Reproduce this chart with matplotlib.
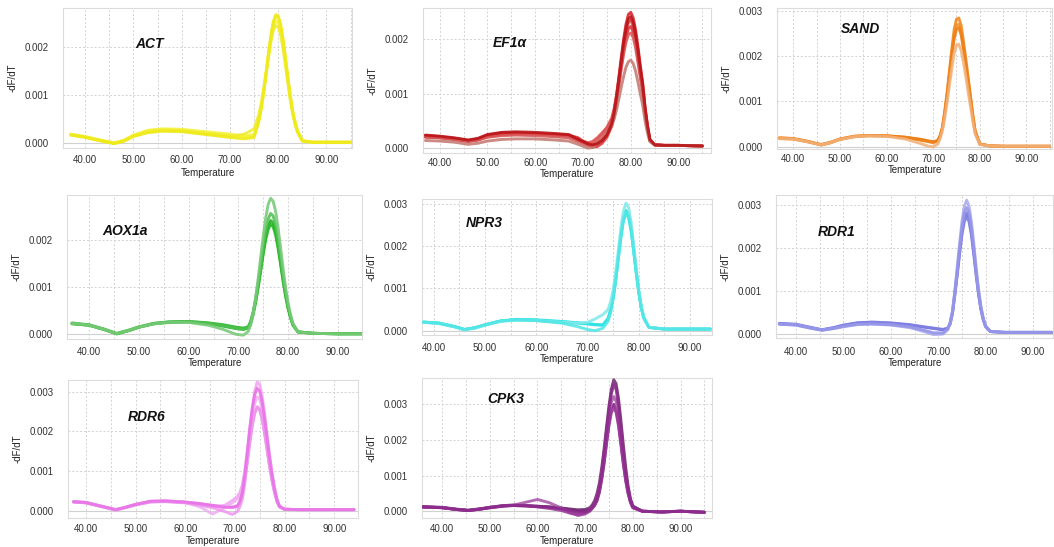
import matplotlib
matplotlib.use('Agg')
import matplotlib.pyplot as plt
import numpy as np
from matplotlib.ticker import FormatStrFormatter, MultipleLocator

plt.rcParams['font.family'] = ['Liberation Sans', 'DejaVu Sans']

# melt-curve values below are in units of 0.0001 (-dF/dT)
UNIT = 1e-4

GENES = ['ACT', 'EF1α', 'SAND', 'AOX1a', 'NPR3', 'RDR1', 'RDR6', 'CPK3']

# ---------------- ACT ----------------
T_ACT = [37, 40, 43, 46, 48, 50, 53, 56, 60, 65, 70, 73, 75,
         76, 76.5, 77, 77.5, 78, 78.5, 79, 79.5, 80, 80.5, 81, 81.5, 82, 82.5, 83, 83.5, 84,
         85, 87, 90, 95]
ACT_CURVES = [
    [1.7, 1.3, 0.6, 0.0, 0.5, 1.6, 2.5, 2.8, 2.7, 2.1, 1.6, 1.3, 1.5,
     4.8, 7.4, 10.7, 14.5, 18.5, 22.1, 24.9, 26.4, 26.2, 24.5, 21.5, 17.7, 13.7, 9.9, 6.8, 4.4, 2.6,
     0.5, 0.2, 0.2, 0.2],
    [1.9, 1.4, 0.7, 0.1, 0.6, 1.7, 2.7, 3.0, 2.9, 2.4, 1.9, 1.5, 1.8,
     5.0, 7.5, 10.6, 14.2, 18.0, 21.4, 24.0, 25.4, 25.2, 23.6, 20.7, 17.0, 13.2, 9.5, 6.5, 4.2, 2.4,
     0.5, 0.2, 0.2, 0.2],
    [1.8, 1.3, 0.6, 0.0, 0.5, 1.5, 2.4, 2.7, 2.6, 2.0, 1.4, 1.9, 3.0,
     6.0, 8.5, 11.5, 14.8, 18.2, 21.3, 23.6, 24.5, 24.2, 22.6, 19.8, 16.2, 12.5, 9.0, 6.1, 3.9, 2.3,
     0.5, 0.2, 0.2, 0.2],
    [1.7, 1.2, 0.5, -0.1, 0.4, 1.4, 2.2, 2.5, 2.4, 1.8, 1.2, 0.9, 1.2,
     4.6, 7.3, 10.8, 14.8, 19.0, 22.7, 25.4, 26.8, 26.6, 24.9, 21.8, 17.9, 13.8, 9.9, 6.7, 4.3, 2.5,
     0.5, 0.2, 0.2, 0.2],
]
ACT_COLORS = ['#f2ee1e', '#f5f23a', '#f0ec30', '#eeea18']

# ---------------- EF1a ----------------
T_EF = [37, 40, 43, 46, 48, 50, 53, 56, 60, 64, 67, 69, 71,
        72, 73, 74, 75, 76,
        76.5, 77, 77.5, 78, 78.5, 79, 79.5, 80, 80.5, 81, 81.5, 82, 82.5, 83, 83.5, 84,
        85, 87, 90, 95]
EF_CURVES = [
    [2.3, 2.1, 1.8, 1.4, 1.7, 2.4, 2.8, 2.8, 2.7, 2.5, 2.3, 1.5, 0.7,
     0.5, 0.9, 1.6, 2.8, 4.8,
     6.8, 9.6, 13.0, 16.6, 20.0, 22.8, 24.6, 25.0, 24.0, 21.8, 18.7, 15.2, 12.0, 7.5, 4.2, 1.6,
     0.6, 0.5, 0.5, 0.4],
    [2.2, 2.0, 1.7, 1.3, 1.6, 2.2, 2.6, 2.7, 2.6, 2.4, 2.2, 1.6, 1.0,
     1.2, 1.9, 2.8, 3.8, 5.5,
     7.2, 9.6, 12.6, 15.8, 18.9, 21.5, 23.1, 23.5, 22.6, 20.5, 17.6, 14.3, 11.2, 7.0, 3.9, 1.5,
     0.6, 0.5, 0.5, 0.4],
    [2.0, 1.9, 1.6, 1.2, 1.5, 2.1, 2.5, 2.6, 2.6, 2.4, 2.4, 1.9, 0.6,
     0.2, 0.3, 0.9, 2.0, 4.0,
     5.8, 8.4, 11.6, 14.9, 17.9, 20.4, 22.0, 22.4, 21.5, 19.5, 16.7, 13.6, 10.7, 6.7, 3.7, 1.4,
     0.6, 0.5, 0.5, 0.4],
    [2.1, 1.9, 1.6, 1.3, 1.5, 2.0, 2.3, 2.4, 2.3, 2.1, 1.9, 1.2, 0.5,
     0.6, 1.4, 2.4, 3.6, 5.0,
     6.5, 8.8, 11.5, 14.5, 17.3, 19.5, 20.9, 21.2, 20.4, 18.5, 15.8, 12.9, 10.2, 6.4, 3.5, 1.4,
     0.6, 0.5, 0.5, 0.4],
    [1.4, 1.3, 1.1, 0.7, 0.9, 1.3, 1.6, 1.7, 1.7, 1.5, 1.3, 0.7, 0.0,
     0.1, 0.7, 1.6, 2.9, 4.2,
     5.3, 7.0, 9.0, 11.2, 13.2, 14.9, 15.9, 16.2, 15.6, 14.2, 12.2, 10.0, 7.9, 5.0, 2.8, 1.2,
     0.6, 0.5, 0.5, 0.4],
    [2.4, 2.2, 1.9, 1.5, 1.8, 2.5, 2.9, 3.0, 2.9, 2.7, 2.5, 1.6, 0.8,
     0.6, 0.8, 1.4, 2.4, 4.4,
     6.4, 9.2, 12.5, 16.0, 19.3, 22.0, 23.8, 24.2, 23.2, 21.1, 18.1, 14.7, 11.6, 7.3, 4.1, 1.6,
     0.6, 0.5, 0.5, 0.4],
]
EF_COLORS = ['#d8222a', '#e04848', '#e02e32', '#d85858', '#c47a72', '#b81418']

# ---------------- SAND ----------------
T_SAND = [37, 40, 43, 46, 48, 50, 53, 56, 60, 64, 67, 69, 70,
          71, 71.5, 72, 72.5, 73, 73.5, 74, 74.5, 75, 75.5, 76, 76.5, 77, 77.5, 78, 78.5, 79,
          80, 82, 85, 90, 95]
SAND_CURVES = [
    [1.9, 1.8, 1.2, 0.5, 1.0, 1.7, 2.3, 2.5, 2.4, 2.1, 1.6, 1.2, 1.0,
     1.3, 2.4, 4.3, 7.9, 12.0, 16.8, 21.5, 25.8, 28.1, 28.4, 26.8, 23.3, 19.5, 15.4, 11.3, 7.2, 3.6,
     0.6, 0.2, 0.1, 0.1, 0.1],
    [2.0, 1.8, 1.2, 0.4, 0.9, 1.7, 2.3, 2.5, 2.4, 2.0, 1.5, 1.1, 0.9,
     1.2, 2.3, 4.1, 7.5, 11.4, 16.0, 20.4, 24.5, 26.7, 27.0, 25.5, 22.2, 18.5, 14.6, 10.7, 6.8, 3.4,
     0.6, 0.2, 0.1, 0.1, 0.1],
    [1.8, 1.7, 1.1, 0.4, 0.9, 1.6, 2.2, 2.4, 2.4, 2.1, 1.7, 1.3, 1.1,
     1.4, 2.4, 4.2, 7.4, 11.2, 15.5, 19.9, 23.8, 25.9, 26.2, 24.7, 21.5, 18.0, 14.2, 10.4, 6.6, 3.3,
     0.6, 0.2, 0.1, 0.1, 0.1],
    [1.8, 1.7, 1.1, 0.4, 0.9, 1.6, 2.2, 2.4, 2.3, 1.7, 0.8, 0.1, 0.0,
     0.6, 1.8, 3.6, 6.5, 9.8, 13.6, 17.3, 20.6, 22.4, 22.6, 21.3, 18.6, 15.5, 12.2, 9.0, 5.7, 2.9,
     0.5, 0.2, 0.1, 0.1, 0.1],
]
SAND_COLORS = ['#f0861c', '#f28c28', '#ec8018', '#f3b27a']

# ---------------- AOX1a ----------------
T_AOX = [36.5, 40, 43, 45.5, 48, 50, 53, 56, 60, 64, 67, 69.5, 71,
         72, 72.5, 73, 73.5, 74, 74.5, 75, 75.5, 76, 76.5, 77, 77.5, 78, 78.5, 79, 79.5, 80, 80.5, 81,
         82, 85, 90, 95]
AOX_CURVES = [
    [2.3, 1.9, 1.0, 0.1, 0.8, 1.5, 2.3, 2.6, 2.7, 2.4, 2.0, 1.5, 1.3,
     1.6, 2.7, 4.6, 7.2, 10.3, 13.8, 17.4, 20.6, 22.9, 24.0, 23.5, 21.7, 18.8, 15.3, 11.7, 8.4, 5.7, 3.6, 2.0,
     0.5, 0.2, 0.1, 0.1],
    [2.2, 1.9, 1.0, 0.1, 0.8, 1.5, 2.2, 2.5, 2.6, 2.2, 1.7, 1.2, 1.0,
     1.3, 2.3, 4.2, 6.8, 9.9, 13.3, 16.8, 19.9, 22.1, 23.2, 22.7, 21.0, 18.2, 14.8, 11.3, 8.1, 5.5, 3.5, 1.9,
     0.5, 0.2, 0.1, 0.1],
    [2.4, 2.0, 1.1, 0.2, 0.9, 1.6, 2.3, 2.6, 2.7, 2.3, 1.8, 1.3, 1.1,
     1.5, 2.7, 4.8, 7.6, 10.9, 14.6, 18.4, 21.8, 24.3, 25.5, 25.0, 23.1, 20.0, 16.2, 12.4, 8.9, 6.0, 3.8, 2.1,
     0.5, 0.2, 0.1, 0.1],
    [2.3, 1.9, 1.0, 0.1, 0.8, 1.5, 2.2, 2.5, 2.5, 1.9, 1.0, 0.0, -0.2,
     0.6, 2.0, 4.4, 7.8, 11.8, 16.2, 20.6, 24.5, 27.4, 28.7, 28.1, 26.0, 22.5, 18.3, 14.0, 10.0, 6.7, 4.2, 2.3,
     0.5, 0.2, 0.1, 0.1],
]
AOX_COLORS = ['#1cb01c', '#22b822', '#50c050', '#78ca78']

# ---------------- NPR3 ----------------
T_NPR = [38, 41, 44, 46, 48, 50, 53, 56, 60, 65, 68, 70, 71.5, 73,
         74, 74.5, 75, 75.5, 76, 76.5, 77, 77.5, 78, 78.5, 79, 79.5, 80, 80.5, 81,
         82, 85, 90, 94]
NPR_CURVES = [
    [2.0, 1.8, 1.0, 0.3, 0.7, 1.4, 2.3, 2.6, 2.5, 2.1, 1.8, 1.6, 1.4, 1.3,
     2.8, 4.8, 7.9, 12.2, 17.4, 22.5, 26.6, 28.4, 27.6, 24.3, 19.4, 14.1, 9.3, 5.5, 3.0,
     0.8, 0.4, 0.4, 0.4],
    [2.1, 1.8, 1.0, 0.3, 0.7, 1.4, 2.3, 2.7, 2.6, 2.2, 1.9, 1.7, 1.5, 1.4,
     2.9, 4.8, 7.8, 12.0, 17.0, 21.9, 25.9, 27.6, 26.9, 23.7, 18.9, 13.8, 9.1, 5.4, 3.0,
     0.8, 0.4, 0.4, 0.4],
    [2.0, 1.7, 0.9, 0.2, 0.6, 1.3, 2.2, 2.5, 2.4, 2.0, 1.8, 2.0, 2.8, 3.8,
     5.0, 6.8, 9.6, 13.7, 18.8, 24.0, 28.2, 30.1, 29.2, 25.7, 20.5, 14.9, 9.8, 5.8, 3.2,
     0.8, 0.4, 0.4, 0.4],
    [2.0, 1.8, 1.0, 0.3, 0.7, 1.4, 2.3, 2.6, 2.4, 1.8, 1.0, 0.3, 0.0, 0.6,
     2.2, 4.2, 7.4, 11.7, 16.9, 22.0, 26.1, 27.9, 27.1, 23.9, 19.1, 13.9, 9.2, 5.4, 3.0,
     0.8, 0.4, 0.4, 0.4],
]
NPR_COLORS = ['#22e0e0', '#30e4e4', '#80eaea', '#50e6e6']

# ---------------- RDR1 ----------------
T_RDR1 = [36.5, 40, 43, 45.5, 48, 50, 53, 56, 60, 64, 67, 69, 71,
          72, 72.5, 73, 73.5, 74, 74.5, 75, 75.5, 76, 76.5, 77, 77.5, 78, 78.5, 79, 79.5, 80,
          81, 84, 90, 94]
RDR1_CURVES = [
    [2.4, 2.2, 1.5, 1.0, 1.5, 2.0, 2.6, 2.7, 2.5, 2.1, 1.6, 1.3, 1.0,
     1.3, 2.3, 4.8, 9.2, 14.0, 19.0, 23.6, 26.8, 28.0, 26.8, 23.6, 19.0, 14.0, 9.5, 5.9, 3.4, 1.8,
     0.6, 0.4, 0.4, 0.4],
    [2.5, 2.3, 1.6, 1.0, 1.5, 2.1, 2.6, 2.8, 2.6, 2.2, 1.7, 1.4, 1.1,
     1.4, 2.4, 4.8, 9.0, 13.6, 18.5, 23.0, 26.0, 27.2, 26.0, 22.9, 18.4, 13.6, 9.2, 5.7, 3.3, 1.7,
     0.6, 0.4, 0.4, 0.4],
    [2.3, 2.1, 1.4, 0.9, 1.3, 1.7, 2.2, 2.3, 2.1, 1.5, 0.6, -0.1, 0.0,
     1.0, 2.5, 5.3, 10.0, 15.4, 20.9, 26.0, 29.6, 31.0, 29.6, 26.0, 21.0, 15.4, 10.4, 6.5, 3.7, 1.9,
     0.6, 0.4, 0.4, 0.4],
    [2.3, 2.1, 1.4, 0.9, 1.3, 1.8, 2.3, 2.4, 2.2, 1.7, 0.9, 0.3, 0.3,
     1.2, 2.6, 5.2, 9.6, 14.6, 19.8, 24.6, 28.0, 29.3, 28.0, 24.6, 19.8, 14.6, 9.9, 6.1, 3.5, 1.8,
     0.6, 0.4, 0.4, 0.4],
]
RDR1_COLORS = ['#7272de', '#7e7ee2', '#aaaaee', '#9494e8']

# ---------------- RDR6 ----------------
T_RDR6 = [37.5, 40, 43, 46, 48, 50, 53, 56, 60, 63, 65.5, 68, 69.5, 70.5,
          71, 71.5, 72, 72.5, 73, 73.5, 74, 74.5, 75, 75.5, 76, 76.5, 77, 77.5, 78, 78.5, 79,
          80, 83, 90, 94]
RDR6_CURVES = [
    [2.3, 2.1, 1.2, 0.3, 0.9, 1.6, 2.4, 2.5, 2.2, 1.8, 1.4, 1.0, 0.9, 1.0,
     1.8, 3.8, 7.8, 12.6, 17.4, 21.6, 24.6, 26.0, 25.4, 23.1, 19.5, 15.3, 11.2, 7.6, 4.6, 2.3, 1.0,
     0.4, 0.3, 0.3, 0.3],
    [2.3, 2.1, 1.2, 0.3, 0.9, 1.6, 2.3, 2.4, 2.1, 1.6, 1.0, 1.4, 2.6, 3.6,
     4.6, 6.5, 10.0, 15.0, 20.5, 25.8, 30.0, 32.4, 31.8, 28.9, 24.4, 19.1, 14.0, 9.5, 5.8, 2.9, 1.2,
     0.4, 0.3, 0.3, 0.3],
    [2.2, 2.0, 1.1, 0.2, 0.8, 1.5, 2.3, 2.4, 2.1, 1.0, -0.8, 0.8, 2.0, 3.0,
     4.0, 5.5, 8.8, 13.6, 18.9, 23.6, 27.0, 28.7, 28.1, 25.5, 21.6, 16.9, 12.4, 8.4, 5.1, 2.5, 1.1,
     0.4, 0.3, 0.3, 0.3],
    [2.2, 2.0, 1.1, 0.2, 0.8, 1.5, 2.2, 2.3, 2.0, 1.4, 0.8, -0.2, -0.9, -0.2,
     1.0, 3.0, 7.0, 12.0, 17.0, 21.5, 24.7, 26.2, 25.6, 23.3, 19.7, 15.4, 11.3, 7.6, 4.6, 2.3, 1.0,
     0.4, 0.3, 0.3, 0.3],
    [2.3, 2.1, 1.2, 0.3, 0.9, 1.6, 2.4, 2.5, 2.2, 1.8, 1.3, 0.9, 0.9, 1.3,
     2.4, 4.6, 9.0, 14.6, 20.6, 25.6, 29.2, 30.8, 30.1, 27.4, 23.1, 18.1, 13.3, 9.0, 5.4, 2.7, 1.1,
     0.4, 0.3, 0.3, 0.3],
]
RDR6_COLORS = ['#ec7aec', '#f2a4f2', '#f0b0f0', '#ee9aee', '#e872e8']

# ---------------- CPK3 ----------------
T_CPK = [36, 40, 43, 45.5, 48, 50, 53, 55, 57.5, 60, 62.5, 65, 67, 68.5, 70,
         71, 71.5, 72, 72.5, 73, 73.5, 74, 74.5, 75, 75.5, 76, 76.5, 77, 77.5, 78, 78.5, 79, 79.5, 80,
         82, 86, 90, 95]
CPK_CURVES = [
    [1.2, 1.0, 0.5, 0.2, 0.6, 1.0, 1.5, 1.6, 1.5, 1.4, 1.2, 0.9, 0.4, 0.0, 0.1,
     0.4, 0.9, 1.6, 2.9, 5.3, 9.0, 13.7, 19.3, 24.7, 28.6, 30.0, 28.6, 24.7, 19.3, 13.7, 8.9, 5.2, 2.6, 1.0,
     0.0, -0.2, 0.0, -0.3],
    [1.3, 1.1, 0.6, 0.3, 0.7, 1.1, 1.6, 1.7, 1.6, 1.4, 1.2, 0.9, 0.6, 0.4, 0.5,
     1.0, 1.8, 3.0, 5.0, 8.0, 12.4, 17.8, 23.8, 29.6, 34.2, 36.9, 35.8, 31.6, 25.5, 18.8, 12.4, 7.2, 3.6, 1.5,
     0.0, -0.2, 0.0, -0.3],
    [1.1, 1.0, 0.5, 0.2, 0.6, 1.0, 1.4, 1.7, 2.5, 3.3, 2.4, 0.9, -0.4, -1.2, -0.8,
     0.0, 0.8, 2.0, 3.8, 6.6, 10.8, 15.8, 21.3, 26.6, 30.6, 32.2, 30.8, 26.6, 20.8, 14.8, 9.6, 5.6, 2.8, 1.2,
     0.0, -0.2, 0.0, -0.3],
    [1.2, 1.0, 0.5, 0.2, 0.6, 1.1, 1.6, 1.7, 1.6, 1.2, 0.8, 0.2, -0.6, -1.0, -0.5,
     0.2, 0.9, 1.9, 3.4, 5.9, 9.5, 14.0, 19.2, 24.1, 27.7, 29.0, 27.7, 23.9, 18.7, 13.3, 8.6, 5.0, 2.5, 1.0,
     0.0, -0.2, 0.0, -0.3],
    [1.2, 1.0, 0.5, 0.2, 0.6, 1.0, 1.5, 1.6, 1.5, 1.3, 1.1, 0.7, 0.2, -0.3, -0.2,
     0.4, 1.1, 2.2, 3.8, 6.6, 11.0, 16.6, 22.6, 28.4, 33.0, 35.5, 34.2, 29.6, 23.1, 16.5, 10.6, 6.2, 3.1, 1.3,
     0.0, -0.2, 0.0, -0.3],
]
CPK_COLORS = ['#861a86', '#6e2a6e', '#a858a8', '#9a3a9a', '#8c2a8c']

X_TICKS = [40, 50, 60, 70, 80, 90]

# ---------------- layout (pixel boxes: left, top, right, bottom) ----------------
W, H = 1054, 547
fig = plt.figure(figsize=(W / 100, H / 100), dpi=100)

# name, T, curves, colours, box, xlim, ylim, n y-ticks, gene-label pos, x tick pad (pt), xlabel offset (px)
panels = [
    (GENES[0], T_ACT, ACT_CURVES, ACT_COLORS, (63, 8, 352, 148), (35.4, 95.3), (-0.0001, 0.00282), 3, (0.25, 0.743), 5.2, 19.5),
    (GENES[1], T_EF, EF_CURVES, EF_COLORS, (423, 8, 711, 153), (36.5, 96.8), (-0.00009, 0.00258), 3, (0.243, 0.762), 3.6, 16),
    (GENES[2], T_SAND, SAND_CURVES, SAND_COLORS, (777, 8, 1052, 149), (36.5, 95.5), (-0.00005, 0.00306), 4, (0.233, 0.851), 3.4, 16),
    (GENES[3], T_AOX, AOX_CURVES, AOX_COLORS, (67, 195, 362, 339), (35.5, 94.9), (-0.0001, 0.00294), 3, (0.119, 0.747), 5.6, 18.5),
    (GENES[4], T_NPR, NPR_CURVES, NPR_COLORS, (422, 199, 712, 335), (37.7, 94.3), (-0.0001, 0.00311), 4, (0.152, 0.824), 5.6, 19.5),
    (GENES[5], T_RDR1, RDR1_CURVES, RDR1_COLORS, (776, 195, 1053, 338), (35.8, 94.2), (-0.00009, 0.00322), 4, (0.152, 0.738), 6.2, 19.5),
    (GENES[6], T_RDR6, RDR6_CURVES, RDR6_COLORS, (68, 380, 358, 518), (36.4, 94.8), (-0.00018, 0.00329), 4, (0.207, 0.732), 4.4, 18.5),
    (GENES[7], T_CPK, CPK_CURVES, CPK_COLORS, (422, 378, 712, 518), (35.8, 96.6), (-0.00019, 0.00374), 4, (0.224, 0.85), 4.4, 18.5),
]

grid_col = '#d2d2d2'
for name, T, curves, colors, box, xlim, ylim, nyt, lab, xpad, xl_off in panels:
    l, t, r, b = box
    ax = fig.add_axes([l / W, 1 - b / H, (r - l) / W, (b - t) / H])
    T = np.array(T)
    for c, col in zip(curves, colors):
        assert len(c) == len(T), (name, len(c), len(T))
        ax.plot(T, np.array(c) * UNIT, color=col, lw=2.1, alpha=0.88,
                solid_joinstyle='round', solid_capstyle='round', zorder=3)
    ax.set_xlim(*xlim)
    ax.set_ylim(*ylim)
    ax.set_xticks(X_TICKS)
    ax.xaxis.set_minor_locator(MultipleLocator(5))
    ax.set_yticks([i * 0.001 for i in range(nyt)])
    ax.xaxis.set_major_formatter(FormatStrFormatter('%.2f'))
    ax.yaxis.set_major_formatter(FormatStrFormatter('%.3f'))
    ax.tick_params(axis='both', which='both', length=0, labelsize=7, colors='#333333')
    ax.tick_params(axis='y', pad=10)
    ax.tick_params(axis='x', pad=xpad)
    ax.grid(True, which='both', axis='x', color=grid_col, ls=(0, (2, 2)), lw=0.7)
    ax.grid(True, which='major', axis='y', color=grid_col, ls=(0, (2, 2)), lw=0.7)
    ax.axhline(0, color='#d0d0d0', lw=0.8, zorder=1)
    for s in ax.spines.values():
        s.set_color('#dcdcdc')
        s.set_linewidth(0.8)
    ax.set_facecolor('white')
    hpx = b - t
    wpx = r - l
    ax.set_xlabel('Temperature', fontsize=7, color='#222222')
    ax.xaxis.set_label_coords(0.5, -xl_off / hpx)
    ax.set_ylabel('-dF/dT', fontsize=7, color='#222222')
    ax.yaxis.set_label_coords(-45 / wpx, 0.5)
    ax.text(lab[0], lab[1], name, transform=ax.transAxes, fontsize=10,
            fontweight='bold', fontstyle='italic', ha='left', va='center', color='#111111')

fig.savefig('out.png', dpi=100)
